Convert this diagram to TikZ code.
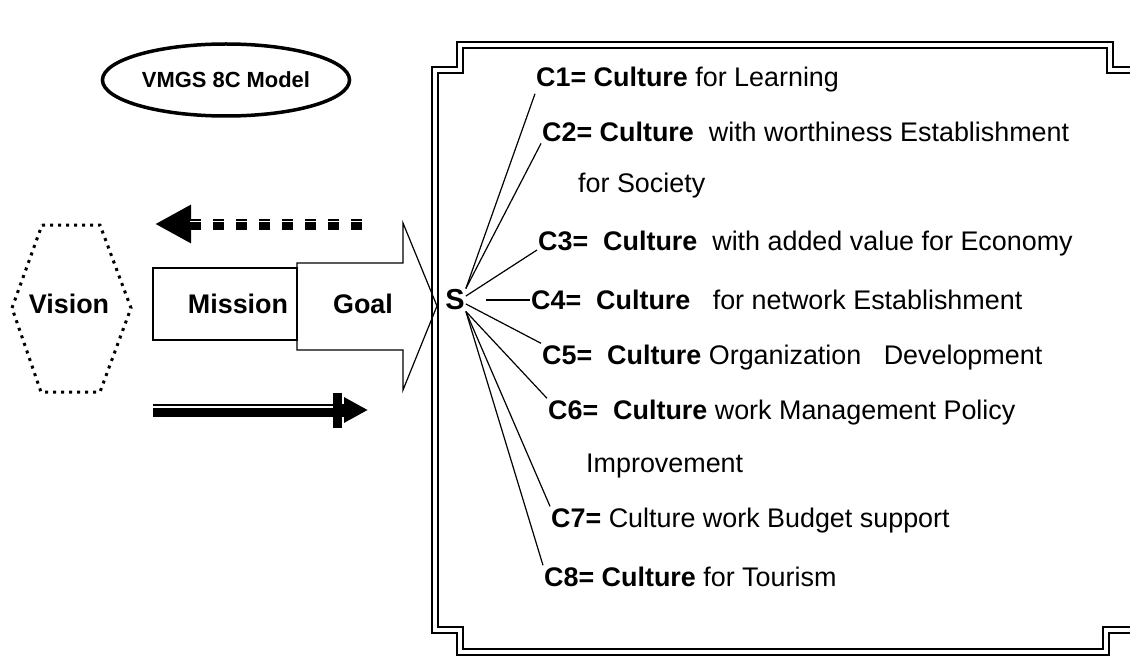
\documentclass[tikz,border=0pt]{standalone}
\usepackage{fontspec}
\setmainfont{Liberation Sans}
\usetikzlibrary{shapes.geometric,arrows.meta}

\begin{document}
\begin{tikzpicture}[x=1bp, y=-1bp,
    model/.style={ellipse, draw, line width=3.5bp, minimum width=242bp, minimum height=72bp, font=\fontsize{22}{25}\selectfont\bfseries},
    box/.style={rectangle, draw, line width=1.2bp, minimum width=144bp, minimum height=72bp, font=\fontsize{27}{30}\selectfont\bfseries},
    tag/.style={inner sep=1bp, font=\fontsize{27}{30}\selectfont\bfseries},
    item/.style={anchor=base west, inner sep=1bp, font=\fontsize{27}{31}\selectfont},
    spoke/.style={line width=1.2bp},
    dframe/.style={line width=1.8bp, double=white, double distance=3.5bp},
    hexa/.style={line width=3bp, dash pattern=on 3bp off 5bp},
    dasharrow/.style={line width=11bp, dash pattern=on 11bp off 12bp, -{Triangle[length=36bp,width=36bp]}},
    barrow/.style={line width=13bp, -{Bar[width=35bp,line width=9.5bp,sep=2bp]Triangle[length=24bp,width=24bp]}}
]
\useasboundingbox (0,0) rectangle (1130,656);

\draw[dframe] (460,45) -- (1110,45) -- (1110,70) -- (1145,70) -- (1145,630) -- (1106,630) -- (1106,652)
    -- (460,652) -- (460,630) -- (435,630) -- (435,70) -- (460,70) -- cycle;

\node[model] (vmgs) at (226,80) {VMGS 8C Model};

\draw[hexa] (42,225) -- (100,225) -- (131,308) -- (100,392) -- (41,392) -- (12,308) -- cycle;
\node[tag] (vision) at (69,304) {Vision};

\draw[line width=1.2bp] (297,263) -- (403,263) -- (403,223) -- (437,306) -- (403,390) -- (403,350) -- (297,350) -- cycle;
\node[box] (mission) at (225,304) {};
\node[tag] (missiontxt) at (238,304) {Mission};
\node[tag] (goal) at (363,304) {Goal};

\coordinate (dtail) at (362,224);
\coordinate (dbase) at (190,224);
\coordinate (dtip) at (155,224);
\draw[dasharrow] (dtail) -- (dtip);
\draw[white, line width=1bp] ([yshift=3bp]dtail) -- ([yshift=3bp]dbase);

\coordinate (bstart) at (153,410);
\coordinate (bbar) at (333,410);
\coordinate (btip) at (368,410);
\draw[barrow] (bstart) -- (btip);
\draw[white, line width=2.2bp] ([yshift=3bp]bstart) -- ([yshift=3bp]bbar);

\node[tag, font=\fontsize{29}{32}\selectfont\bfseries] (s) at (455,300) {S};

\node[item] (c1) at (535,87) {\textbf{C1= Culture} for Learning};
\node[item] (c2) at (541,142) {\textbf{C2= Culture}\ \ with worthiness Establishment};
\node[item] (c2b) at (577,193) {for Society};
\node[item] (c3) at (537,250) {\textbf{C3=\ \ Culture}\ \ with added value for Economy};
\node[item] (c4) at (530,309) {\textbf{C4=\ \ Culture}\ \ \ for network Establishment};
\node[item] (c5) at (541,364) {\textbf{C5=\ \ Culture} Organization\ \ \ Development};
\node[item] (c6) at (547,419) {\textbf{C6=\ \ Culture} work Management Policy};
\node[item] (c6b) at (585,472) {Improvement};
\node[item] (c7) at (550,527) {\textbf{C7=} Culture work Budget support};
\node[item] (c8) at (543,586) {\textbf{C8= Culture} for Tourism};

\draw[spoke] (s.north east) -- (c1.south west);
\draw[spoke] (s.north east) -- (c2.south west);
\draw[spoke] (s.20) -- (c3.base west);
\draw[spoke] ([xshift=20bp]s.east) -- (s.east -| c4.west);
\draw[spoke] (s.-20) -- (c5.north west);
\draw[spoke] (s.south east) -- (c6.north west);
\draw[spoke] (s.south east) -- (c7.north west);
\draw[spoke] (s.south east) -- (c8.north west);

\end{tikzpicture}
\end{document}
